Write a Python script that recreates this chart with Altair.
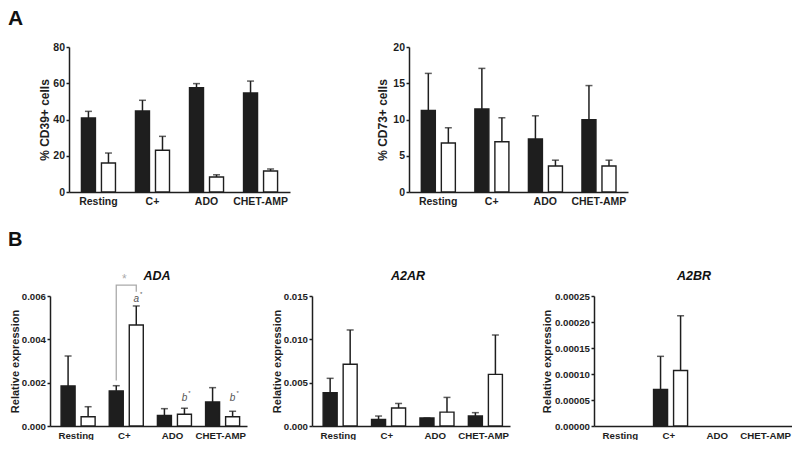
import altair as alt
import pandas as pd

categories = ["Resting", "C+", "ADO", "CHET-AMP"]
groups = ["filled", "open"]

cd39_filled = [40.8, 44.7, 57.6, 54.6]
cd39_filled_sem = [3.7, 5.9, 2.2, 6.6]
cd39_open = [16.0, 23.0, 8.3, 11.6]
cd39_open_sem = [5.5, 7.7, 1.2, 1.1]

cd73_filled = [11.26, 11.45, 7.31, 9.98]
cd73_filled_sem = [5.1, 5.6, 3.2, 4.7]
cd73_open = [6.76, 6.94, 3.59, 3.59]
cd73_open_sem = [2.1, 3.3, 0.8, 0.8]

ada_filled = [0.00185, 0.00162, 0.00049, 0.00111]
ada_filled_sem = [0.00138, 0.00024, 0.00031, 0.00066]
ada_open = [0.00043, 0.00466, 0.00054, 0.00043]
ada_open_sem = [0.00046, 0.00088, 0.00028, 0.00025]

a2ar_filled = [0.00385, 0.00077, 0.00092, 0.00115]
a2ar_filled_sem = [0.00165, 0.00038, 0.0, 0.00039]
a2ar_open = [0.00712, 0.00208, 0.0016, 0.00596]
a2ar_open_sem = [0.00396, 0.00052, 0.0017, 0.00454]

a2br_filled = [0.0, 0.0000704, 0.0, 0.0]
a2br_filled_sem = [0.0, 0.0000636, 0.0, 0.0]
a2br_open = [0.0, 0.0001066, 0.0, 0.0]
a2br_open_sem = [0.0, 0.0001054, 0.0, 0.0]

# annotation values (ADA panel)
bracket_cat = ["C+", "C+", "C+", "C+"]
bracket_grp = ["filled", "filled", "open", "open"]
bracket_y = [0.0021, 0.0065, 0.0065, 0.0062]
star_y = [0.0068]
letter_cat = ["C+", "ADO", "CHET-AMP"]
letter_txt = ["a", "b", "b"]
letter_y = [0.00585, 0.0013, 0.0013]

FONT = "Liberation Sans"
INK = "#1e1e1e"


def table(f, fs, o, os_):
    rows = []
    for i, c in enumerate(categories):
        rows.append({"cat": c, "grp": "filled", "value": f[i], "upper": f[i] + fs[i]})
        rows.append({"cat": c, "grp": "open", "value": o[i], "upper": o[i] + os_[i]})
    return pd.DataFrame(rows)


def encs(domain, ticks, fmt, ytitle, h, lab_size, title_size, title_x):
    xs = alt.X("cat:N",
               scale=alt.Scale(domain=categories, paddingInner=0.37, paddingOuter=0.23),
               axis=alt.Axis(title=None, labelAngle=0, ticks=False, labelFontSize=lab_size,
                             labelPadding=4, domainWidth=1.5, domainColor=INK,
                             labelColor=INK, labelFont=FONT, labelFontWeight="bold"))
    xo = alt.XOffset("grp:N", scale=alt.Scale(domain=groups, paddingInner=0.3))

    def ys(field):
        return alt.Y(field, type="quantitative",
                     scale=alt.Scale(domain=domain, nice=False, zero=True),
                     axis=alt.Axis(values=ticks, format=fmt, title=ytitle, grid=False,
                                   tickSize=3, tickWidth=1.5, tickColor=INK,
                                   domainWidth=1.5, domainColor=INK,
                                   labelFontSize=lab_size, labelPadding=1.5,
                                   labelColor=INK, labelFont=FONT, labelFontWeight="bold",
                                   titleFont=FONT, titleFontSize=title_size,
                                   titleFontWeight="bold", titleColor=INK,
                                   titleX=title_x, titleY=h / 2, titleBaseline="middle",
                                   titleAngle=270, titleAlign="center"))
    return xs, xo, ys


def panel(df, domain, ticks, fmt, ytitle, h, lab_size, title_size, title_x):
    xs, xo, ys = encs(domain, ticks, fmt, ytitle, h, lab_size, title_size, title_x)
    base = alt.Chart(df).transform_filter("datum.value > 0")
    bars = base.mark_bar(stroke=INK, strokeWidth=1.4).encode(
        x=xs, xOffset=xo, y=ys("value"),
        fill=alt.Fill("grp:N", scale=alt.Scale(domain=groups, range=[INK, "white"]), legend=None))
    err = base.mark_rule(color=INK, strokeWidth=1.5).encode(
        x=xs, xOffset=xo, y=ys("value"), y2="upper:Q")
    cap = base.mark_tick(color=INK, size=7, thickness=1.5).encode(
        x=xs, xOffset=xo, y=ys("upper"))
    return [bars, err, cap], (xs, xo, ys)


def letter(txt, x, y, size):
    return alt.Chart(pd.DataFrame({"t": [txt]})).mark_text(
        font=FONT, fontWeight="bold", fontSize=size, align="left", baseline="top", color="#111"
    ).encode(text="t:N", x=alt.value(x), y=alt.value(y))


def heading(txt, x, y):
    return alt.Chart(pd.DataFrame({"t": [txt]})).mark_text(
        font=FONT, fontWeight="bold", fontStyle="italic", fontSize=12.5,
        align="center", baseline="alphabetic", color="#111"
    ).encode(text="t:N", x=alt.value(x), y=alt.value(y))


def spacer(w, h):
    return alt.Chart(pd.DataFrame({"v": [0]})).mark_point(opacity=0).encode(
        x=alt.X("v:Q", axis=None), y=alt.Y("v:Q", axis=None)
    ).properties(width=w, height=h)


HA, HB = 145, 130

# Panel A1
l, _ = panel(table(cd39_filled, cd39_filled_sem, cd39_open, cd39_open_sem),
             [0, 80], [0, 20, 40, 60, 80], "d", "% CD39+ cells", HA, 10.5, 12, -25)
A1 = alt.layer(*l, letter("A", -61, -39, 21)).properties(width=221, height=HA)

# Panel A2
l, _ = panel(table(cd73_filled, cd73_filled_sem, cd73_open, cd73_open_sem),
             [0, 20], [0, 5, 10, 15, 20], "d", "% CD73+ cells", HA, 10.5, 12, -27)
A2 = alt.layer(*l).properties(width=219, height=HA)

# Panel B1 (ADA)
l, (xs, xo, ys) = panel(table(ada_filled, ada_filled_sem, ada_open, ada_open_sem),
                        [0, 0.006], [0, 0.002, 0.004, 0.006], ".3f", "Relative expression",
                        HB, 9.7, 11, -35)
bracket = alt.Chart(pd.DataFrame({"cat": bracket_cat, "grp": bracket_grp, "y": bracket_y,
                                  "o": list(range(len(bracket_y)))})).mark_line(
    color="#aaaaaa", strokeWidth=1.3).encode(x=xs, xOffset=xo, y=ys("y"), order="o:Q")
star = alt.Chart(pd.DataFrame({"cat": ["C+"], "y": star_y, "t": ["*"]})).mark_text(
    font=FONT, fontSize=12, color="#aaaaaa", baseline="middle").encode(x=xs, y=ys("y"), text="t:N")
lett = alt.Chart(pd.DataFrame({"cat": letter_cat, "grp": ["open"] * 3, "y": letter_y,
                               "t": letter_txt}))
lett_t = lett.mark_text(font=FONT, fontSize=10, fontStyle="italic", color="#555555",
                        baseline="middle").encode(x=xs, xOffset=xo, y=ys("y"), text="t:N")
lett_s = lett.mark_text(font=FONT, fontSize=6, color="#555555", baseline="middle",
                        dx=5, dy=-5).encode(x=xs, xOffset=xo, y=ys("y"), text=alt.value("*"))
B1 = alt.layer(*l, bracket, star, lett_t, lett_s, letter("B", -42, -66, 20),
               heading("ADA", 107, -16)).properties(width=197, height=HB)

# Panel B2 (A2AR)
l, _ = panel(table(a2ar_filled, a2ar_filled_sem, a2ar_open, a2ar_open_sem),
             [0, 0.015], [0, 0.005, 0.010, 0.015], ".3f", "Relative expression",
             HB, 9.7, 11, -35)
B2 = alt.layer(*l, heading("A2AR", 96, -16)).properties(width=198, height=HB)

# Panel B3 (A2BR)
l, _ = panel(table(a2br_filled, a2br_filled_sem, a2br_open, a2br_open_sem),
             [0, 0.00025], [0, 0.00005, 0.0001, 0.00015, 0.0002, 0.00025], ".5f",
             "Relative expression", HB, 9.7, 11, -47)
B3 = alt.layer(*l, heading("A2BR", 100, -16)).properties(width=198, height=HB)

row1 = alt.HConcatChart(hconcat=[spacer(19, HA), A1, spacer(119, HA), A2],
                        spacing=0, bounds="flush")
row2 = alt.HConcatChart(hconcat=[B1, spacer(65, HB), B2, spacer(84, HB), B3],
                        spacing=0, bounds="flush")

chart = alt.VConcatChart(vconcat=[row1, row2], spacing=23, padding=0,
                         background="white").configure_view(stroke=None)

chart.save("out.html", embed_options={"renderer": "svg", "actions": False})
